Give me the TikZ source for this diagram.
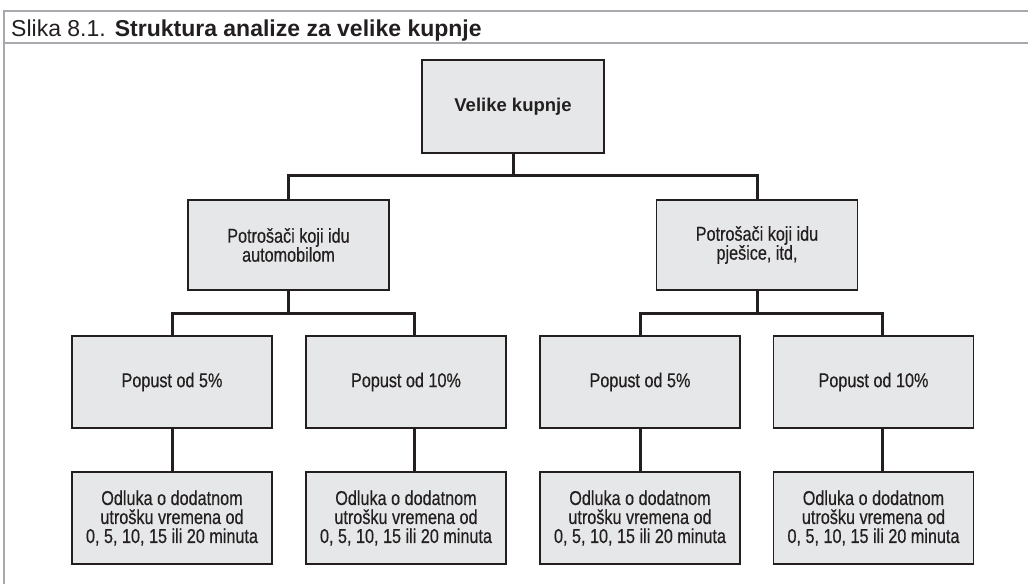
\documentclass[tikz,border=0pt]{standalone}
\usepackage{fontspec}
\setmainfont{Liberation Sans}
\newfontfamily\narrowfont[FakeStretch=0.81,FakeBold=0.4]{Liberation Sans}
\usetikzlibrary{calc}
\definecolor{boxgray}{HTML}{E6E7E8}
\definecolor{ink}{HTML}{231F20}
\definecolor{framegray}{HTML}{A7A9AC}
\tikzstyle{box}=[rectangle,draw=ink,fill=boxgray,line width=1.5pt,minimum width=200pt,minimum height=92pt,inner sep=0pt,align=center,text=ink,font=\narrowfont\fontsize{20}{19}\selectfont]
\tikzstyle{rootbox}=[box,minimum width=182pt,minimum height=93pt,font=\bfseries\fontsize{18.5}{20}\selectfont]
\tikzstyle{branch}=[draw=ink,line width=3pt]
\tikzstyle{frameline}=[draw=framegray,line width=2pt]

\begin{document}
\begin{tikzpicture}[x=1pt,y=-1pt]

	\useasboundingbox (0,0) rectangle (1028,584);

	\def\ya{106.5};
	\def\yb{245};
	\def\yc{382};
	\def\yd{518};

% Frame and caption
   \draw[frameline] (4,584) -- (4,11) -- (1028,11);
   \draw[frameline] (4,43) -- (1028,43);
   \node[anchor=base west,inner sep=0pt,text=ink,font=\fontsize{23}{26}\selectfont] (title) at (11,36) {Slika 8.1.\hspace{9pt}\textbf{Struktura analize za velike kupnje}};

%layer 1
    \node[rootbox] (root) at (513,\ya) {Velike kupnje};
%layer 2
    \foreach \pos/\name/\label in {{(288.5,\yb)/L/{Potrošači koji idu\\automobilom}}, {(757,\yb)/R/{Potrošači koji idu\\pješice, itd,}}}
        \node[box,minimum width=201pt,minimum height=90pt] (\name) at \pos {\label};
%layer 3
    \foreach \pos/\name/\label in {{(172,\yc)/LL/{Popust od 5\%}}, {(406,\yc)/LR/{Popust od 10\%}}, {(640,\yc)/RL/{Popust od 5\%}}, {(873.5,\yc)/RR/{Popust od 10\%}}}
        \node[box] (\name) at \pos {\label};
%layer 4
    \foreach \pos/\name in {{(172,\yd)/LLd}, {(406,\yd)/LRd}, {(640,\yd)/RLd}, {(873.5,\yd)/RRd}}
        \node[box] (\name) at \pos {Odluka o dodatnom\\utrošku vremena od\\0, 5, 10, 15 ili 20 minuta};

    % Connect the boxes
    \path[branch] (root.south) -- ++(0,23);
    \path[branch] (L.north) -- ++(0,-24) -| (R.north);
	%layer 2
    \path[branch] (L.south) -- ++(0,24);
    \path[branch] (LL.north) -- ++(0,-22) -| ([xshift=8pt]LR.north);
    \path[branch] (R.south) -- ++(0,24);
    \path[branch] (RL.north) -- ++(0,-22) -| ([xshift=8.5pt]RR.north);
	%layer 3
	 \foreach \source/ \dest /\off in {LL/LLd/0, LR/LRd/8, RL/RLd/0, RR/RRd/8.5}
		\path[branch] ([xshift=\off pt]\source.south) -- ([xshift=\off pt]\dest.north);

   \end{tikzpicture}
\end{document}
